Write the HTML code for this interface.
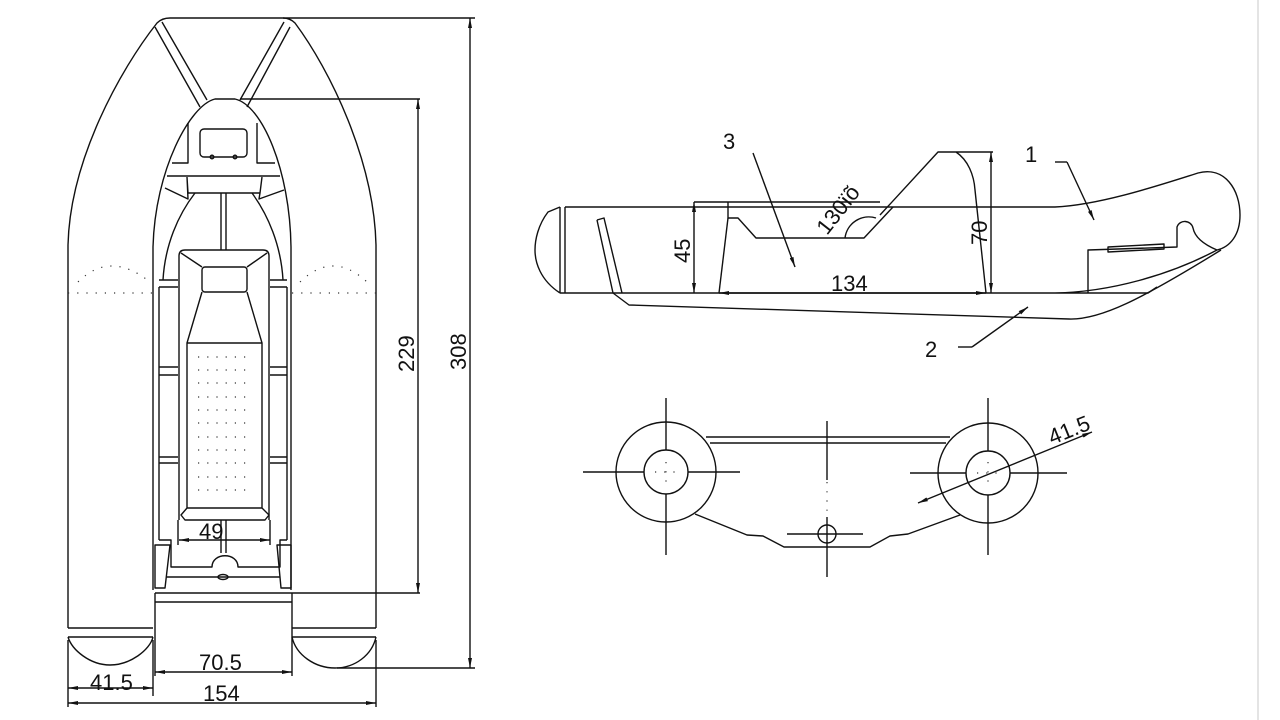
<!DOCTYPE html>
<html><head><meta charset="utf-8"><style>
html,body{margin:0;padding:0;background:#fff;width:1280px;height:720px;overflow:hidden}
svg{display:block}
text{font-family:"Liberation Sans",sans-serif;fill:#111;font-size:22px}
</style></head><body>
<svg width="1280" height="720" viewBox="0 0 1280 720" xmlns="http://www.w3.org/2000/svg">
<defs>
<marker id="a" markerWidth="10" markerHeight="6" refX="10" refY="3" orient="auto-start-reverse" markerUnits="userSpaceOnUse"><path d="M0,1 L10,3 L0,5 Z" fill="#111"/></marker>
</defs>
<line x1="1258" y1="0" x2="1258" y2="720" stroke="#e4e4e4" stroke-width="2"/>
<g fill="none" stroke="#111" stroke-width="1.4" stroke-linejoin="round">
<path d="M68,628 L68,245 C70,160 120,70 157,23 Q162,18 170,18 L283,18 Q290,18 295,23 C330,70 374,160 376,245 L376,628"/>
<path d="M155,27 L200,107 M162,22 L207,100 M290,27 L247,107 M284,22 L240,100"/>
<path d="M153,590 L153,247 C155,170 190,105 215,99 L235,99 C262,105 290,170 291,247 L291,590"/>
<path d="M159,540 L159,287 M287,540 L287,287 M163,280 C165,245 178,215 195,193 M283,280 C281,245 268,215 252,193"/>
<path d="M172,163 L188,163 L188,123 M257,123 L257,163 L275,163 M167,176 L280,176"/>
<rect x="200" y="129" width="47" height="28" rx="4"/>
<circle cx="212" cy="157" r="1.8"/><circle cx="235" cy="157" r="1.8"/>
<path d="M187,177 L188,193 L260,193 L262,177 M165,188 L188,199 L187,177 M284,190 L259,199 L260,193"/>
<path d="M221,193 L221,250 M226,193 L226,250 M221,520 L221,553 M226,520 L226,553"/>
<path d="M179,520 L179,256 Q179,250 185,250 L263,250 Q269,250 269,256 L269,520"/>
<rect x="202" y="267" width="45" height="25" rx="3"/>
<path d="M181,253 L202,267 M267,253 L247,267 M202,292 L187,343 M247,292 L262,343"/>
<path d="M187,343 L187,508 L262,508 L262,343 Z M187,508 L181,515 L185,520 L265,520 L269,515 L262,508"/>
<path d="M159,280 L178,280 M159,287 L178,287 M159,367 L178,367 M159,375 L178,375 M159,457 L178,457 M159,463 L178,463 M270,280 L287,280 M270,287 L287,287 M270,367 L287,367 M270,375 L287,375 M270,457 L287,457 M270,463 L287,463"/>
<path d="M159,540 L171,540 L171,567 L212,567 C212,552 238,552 238,567 L280,567 L280,540 L287,540"/>
<path d="M166,577 L280,577"/>
<ellipse cx="223" cy="577" rx="5" ry="2.5"/>
<path d="M155,545 L170,545 L165,588 L155,588 Z M291,545 L277,545 L281,588 L291,588 Z"/>
<path d="M155,593 L292,593 M155,602 L292,602 M155,593 L155,668 M292,593 L292,668"/>
<path d="M68,628 L153,628 M68,637 L153,637 M68,637 C72,650 90,665 110,665 C130,665 150,650 153,637"/>
<path d="M292,628 L376,628 M292,637 L376,637 M292,637 C296,655 315,668 335,668 C355,668 372,655 376,637"/>
<path d="M283,18 L475,18 M240,99 L420,99 M292,593 L420,593 M337,668 L475,668 M68,640 L68,707 M153,640 L153,696 M155,668 L155,676 M292,668 L292,676 M376,640 L376,707 M178,520 L178,545 M270,520 L270,545"/>
<line x1="470" y1="18" x2="470" y2="668" marker-start="url(#a)" marker-end="url(#a)"/>
<line x1="418" y1="99" x2="418" y2="593" marker-start="url(#a)" marker-end="url(#a)"/>
<line x1="68" y1="688" x2="153" y2="688" marker-start="url(#a)" marker-end="url(#a)"/>
<line x1="155" y1="672" x2="292" y2="672" marker-start="url(#a)" marker-end="url(#a)"/>
<line x1="68" y1="703" x2="376" y2="703" marker-start="url(#a)" marker-end="url(#a)"/>
<line x1="179" y1="540" x2="270" y2="540" marker-start="url(#a)" marker-end="url(#a)"/>
<path d="M565,207 L1055,207 C1100,205 1160,185 1198,173 C1225,166 1240,190 1240,215 C1240,235 1230,247 1217,250 C1205,245 1195,238 1193,228 C1191,220 1180,219 1177,227 L1177,247 L1088,250 L1088,293"/>
<path d="M565,207 L565,293 M560,207 L560,293 M560,207 L548,212 C538,225 535,240 535,250 C535,262 540,280 560,293"/>
<path d="M560,293 L1148,293 L1157,287 M1055,293 C1110,292 1170,275 1217,250"/>
<path d="M1108,247 L1164,244 L1164,249 L1108,252 Z"/>
<path d="M597,220 L604,218 L622,293 M597,220 L613,293 L629,305 L1069,319 C1100,320 1140,300 1221,250"/>
<path d="M694,202 L880,202 M728,202 L728,218 L738,218 L756,238 L864,238 L893,207"/>
<path d="M728,218 L719,293"/>
<path d="M880,215 L938,152 L956,152 C968,160 974,175 975,190 L986,293 M956,152 L993,152"/>
<path d="M845,238 A24,24 0 0 1 876,218" />
<line x1="991" y1="152" x2="991" y2="293" marker-start="url(#a)" marker-end="url(#a)"/>
<line x1="694" y1="202" x2="694" y2="293" marker-start="url(#a)" marker-end="url(#a)"/>
<line x1="719" y1="293" x2="986" y2="293" marker-start="url(#a)" marker-end="url(#a)"/>
<line x1="753" y1="153" x2="795" y2="267" marker-end="url(#a)"/>
<path d="M1055,162 L1067,162"/><line x1="1067" y1="162" x2="1094" y2="220" marker-end="url(#a)"/>
<path d="M958,347 L972,347"/><line x1="972" y1="347" x2="1028" y2="307" marker-end="url(#a)"/>
<circle cx="666" cy="472" r="50"/><circle cx="666" cy="472" r="22"/>
<circle cx="988" cy="473" r="50"/><circle cx="988" cy="473" r="22"/>
<path d="M583,472 L644,472 M688,472 L740,472 M666,398 L666,450 M666,494 L666,555"/>
<path d="M910,473 L966,473 M1010,473 L1067,473 M988,398 L988,451 M988,495 L988,555"/>
<path d="M706,437 L950,437 M710,443 L946,443"/>
<path d="M695,514 L747,535 L763,536 L784,547 L870,547 L890,536 L908,534 L960,515"/>
<circle cx="827" cy="534" r="9"/>
<path d="M787,534 L863,534 M827,421 L827,480 M827,517 L827,577"/>
<line x1="918" y1="503" x2="1092" y2="432" marker-start="url(#a)" marker-end="url(#a)"/>
</g>
<g stroke="#333" stroke-width="1.2" stroke-dasharray="1.2 8" fill="none">
<path d="M78,282 Q110,250 150,282 M68,293 L153,293 M300,282 Q333,250 367,282 M292,293 L376,293"/>
<path d="M198,357 L252,357 M198,370 L252,370 M198,383 L252,383 M198,397 L252,397 M198,410 L252,410 M198,423 L252,423 M198,437 L252,437 M198,450 L252,450 M198,463 L252,463 M198,477 L252,477 M198,490 L252,490"/>
<path d="M827,482 L827,515 M655,472 L677,472 M666,462 L666,484 M977,473 L999,473 M988,462 L988,485"/>
</g>
<text x="199" y="539">49</text>
<text x="199" y="670">70.5</text>
<text x="90" y="690">41.5</text>
<text x="203" y="701">154</text>
<text transform="translate(414,372) rotate(-90)">229</text>
<text transform="translate(466,370) rotate(-90)">308</text>
<text transform="translate(690,263) rotate(-90)">45</text>
<text transform="translate(987,245) rotate(-90)">70</text>
<text x="831" y="291">134</text>
<text transform="translate(827,236) rotate(-52)" font-size="19">130ïõ</text>
<text x="723" y="149">3</text>
<text x="1025" y="162">1</text>
<text x="925" y="357">2</text>
<text transform="translate(1052,445) rotate(-22)">41.5</text>
</svg>
</body></html>
